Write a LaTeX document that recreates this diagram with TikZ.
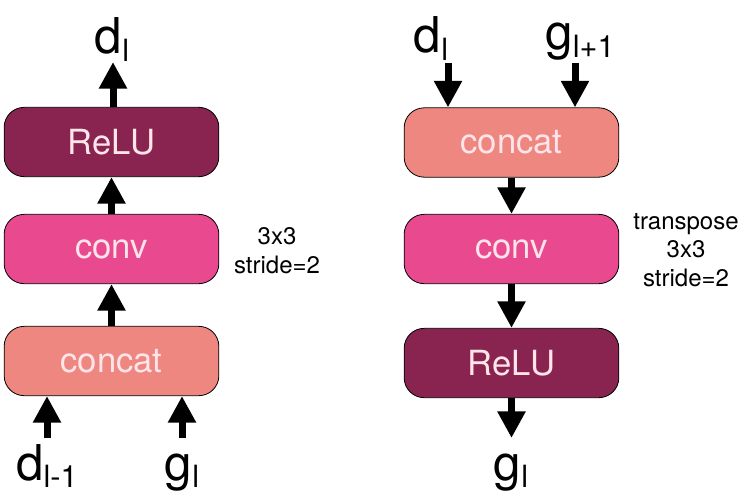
\documentclass[tikz,border=0pt]{standalone}
\usepackage{fontspec}
\setmainfont{TeX Gyre Heros}
\usetikzlibrary{arrows.meta,positioning}

\definecolor{reluc}{HTML}{88244F}
\definecolor{convc}{HTML}{E94A8F}
\definecolor{catc}{HTML}{EE8780}
\definecolor{txtc}{HTML}{FFE4EA}

% lowered small index as in the figure
\newcommand{\lsub}[1]{\raisebox{-0.3ex}{\fontsize{23}{23}\selectfont #1}}

\tikzset{
  block/.style={draw=black, line width=0.6pt, rounded corners=15pt,
    minimum width=161pt, minimum height=52pt, text=txtc,
    font=\fontsize{26}{26}\selectfont},
  flow/.style={line width=5.25pt, -{Triangle[width=20pt,length=20pt]}},
  sig/.style={font=\fontsize{37}{37}\selectfont, inner sep=0pt, anchor=base},
  note/.style={font=\fontsize{18}{21.5}\selectfont, align=center},
}

\begin{document}
\begin{tikzpicture}[x=0.75pt,y=-0.75pt]
  \useasboundingbox (0,0) rectangle (748,499);

  % downsampling block
  \node[block, fill=reluc] (reluL) at (111.5,142) {ReLU};
  \node[block, fill=convc] (convL) at (111.5,249) {conv};
  \node[block, fill=catc] (catL) at (111.5,361) {concat};
  \node[note] (noteL) at (277,251) {3x3\\stride=2};

  \node[sig] (dOut) at (112,54) {d\lsub{l}};
  \node[sig] (dPrev) at (47,480) {d\lsub{l-1}};
  \node[sig] (gIn) at (182,480) {g\lsub{l}};

  \coordinate (dOutTip) at (113,62);
  \coordinate (dPrevTail) at (47,438);
  \coordinate (gInTail) at (182,438);
  \draw[flow] (catL) -- (convL);
  \draw[flow] (convL) -- (reluL);
  \draw[flow] (reluL.north -| dOutTip) -- (dOutTip);
  \draw[flow] (dPrevTail) -- (dPrevTail |- catL.south);
  \draw[flow] (gInTail) -- (gInTail |- catL.south);

  % upsampling block
  \node[block, fill=catc] (catR) at (511.5,142.5) {concat};
  \node[block, fill=convc] (convR) at (511.5,249) {conv};
  \node[block, fill=reluc] (reluR) at (511.5,363) {ReLU};
  \node[note] (noteR) at (686,250) {transpose\\3x3\\stride=2};

  \node[sig] (dIn) at (431,53) {d\lsub{l}};
  \node[sig] (gNext) at (580,50) {g\lsub{l+1}};
  \node[sig] (gOut) at (511,480) {g\lsub{l}};

  \coordinate (dInTail) at (448,63);
  \coordinate (gNextTail) at (575,63);
  \coordinate (gOutTip) at (511.5,438);
  \draw[flow] (dInTail) -- (dInTail |- catR.north);
  \draw[flow] (gNextTail) -- (gNextTail |- catR.north);
  \draw[flow] (catR) -- (convR);
  \draw[flow] (convR) -- (reluR);
  \draw[flow] (reluR.south) -- (gOutTip);
\end{tikzpicture}
\end{document}
